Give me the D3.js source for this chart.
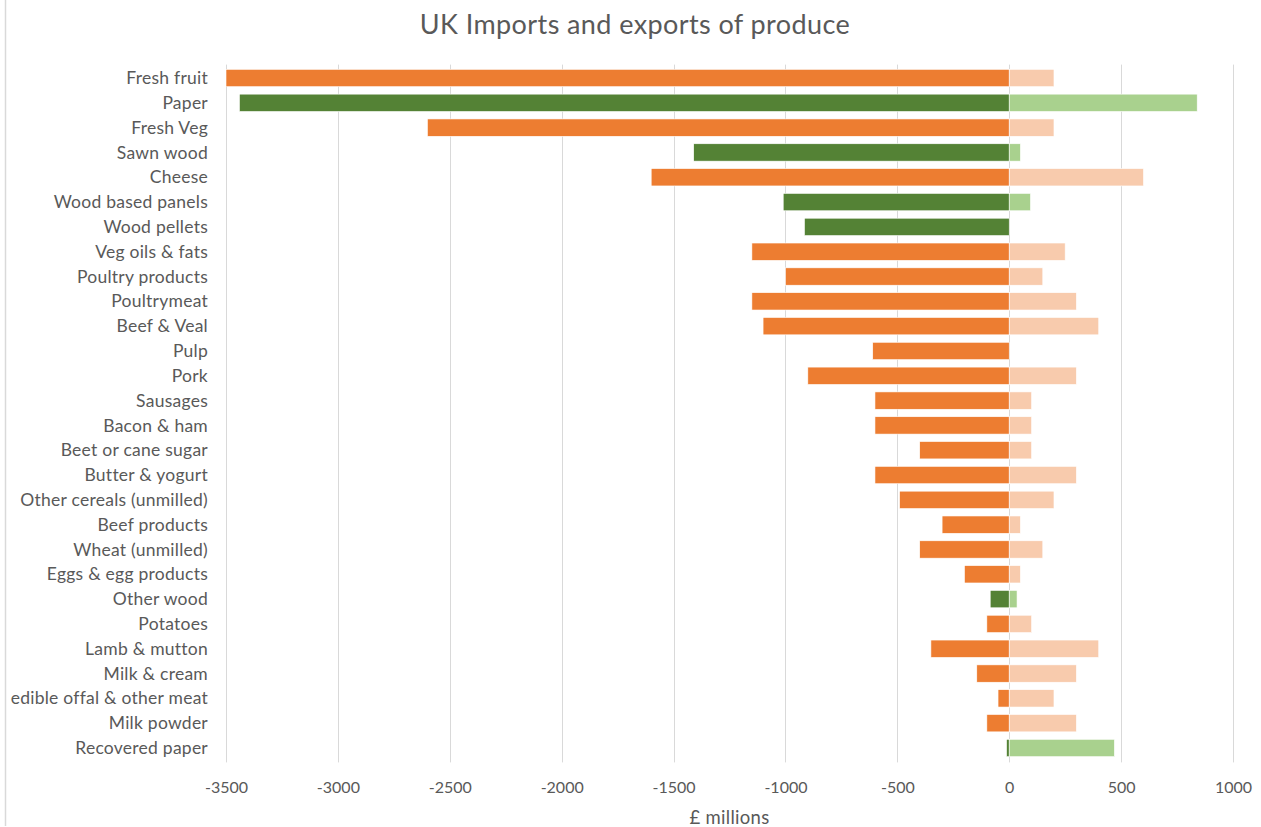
<!DOCTYPE html>
<html>
<head>
<meta charset="utf-8">
<script src="https://cdn.jsdelivr.net/npm/d3@7"></script>
<style>
  html, body { margin: 0; padding: 0; background: #fff; }
  svg { display: block; font-family: Lato, "Open Sans", sans-serif; }
</style>
</head>
<body>
<svg id="chart" width="1261" height="827"></svg>
<script>
const categories = ["Fresh fruit","Paper","Fresh Veg","Sawn wood ","Cheese","Wood based panels","Wood pellets","Veg oils & fats","Poultry products","Poultrymeat","Beef & Veal","Pulp","Pork","Sausages","Bacon & ham","Beet or cane sugar","Butter & yogurt","Other cereals (unmilled)","Beef products","Wheat (unmilled)","Eggs & egg products","Other wood","Potatoes","Lamb & mutton","Milk & cream","edible offal & other meat","Milk powder","Recovered paper"];
const imports = [-3500,-3440,-2600,-1410,-1600,-1010,-915,-1150,-1000,-1150,-1100,-610,-900,-600,-600,-400,-600,-490,-300,-400,-200,-85,-100,-350,-145,-50,-100,-12];
const exports = [200,840,200,50,600,95,0,250,150,300,400,0,300,100,100,100,300,200,50,150,50,35,100,400,300,200,300,470];
const isWood = [false,true,false,true,false,true,true,false,false,false,false,false,false,false,false,false,false,false,false,false,false,true,false,false,false,false,false,true];
const xTicks = [-3500,-3000,-2500,-2000,-1500,-1000,-500,0,500,1000];
const title = "UK Imports and exports of produce";
const xTitle = "£ millions";

const svg = d3.select("#chart");
const m = {left: 226, right: 1233, top: 65.6, bottom: 760.4};

const x = d3.scaleLinear().domain([-3500, 1000]).range([m.left, m.right]);
const y = d3.scaleBand().domain(categories).range([m.top, m.bottom]).paddingInner(0.3).paddingOuter(0.15);

// chart border (left)
svg.append("line").attr("x1", 5.5).attr("x2", 5.5).attr("y1", 0).attr("y2", 826)
  .attr("stroke", "#d9d9d9").attr("stroke-width", 1.5);

// gridlines
svg.append("g").selectAll("line").data(xTicks).join("line")
  .attr("x1", d => Math.round(x(d)) + 0.5).attr("x2", d => Math.round(x(d)) + 0.5)
  .attr("y1", m.top - 1).attr("y2", m.bottom + 2)
  .attr("stroke", "#d9d9d9").attr("stroke-width", 1);

const rows = categories.map((c, i) => ({c, imp: imports[i], exp: exports[i], wood: isWood[i]}));

// import bars
svg.append("g").selectAll("rect").data(rows).join("rect")
  .attr("x", d => x(d.imp))
  .attr("y", d => y(d.c))
  .attr("width", d => x(0) - x(d.imp))
  .attr("height", y.bandwidth())
  .attr("fill", d => d.wood ? "#548235" : "#ED7D31")
  .attr("stroke", "#fff").attr("stroke-width", 0.6);

// export bars
svg.append("g").selectAll("rect").data(rows.filter(d => d.exp > 0)).join("rect")
  .attr("x", x(0))
  .attr("y", d => y(d.c))
  .attr("width", d => x(d.exp) - x(0))
  .attr("height", y.bandwidth())
  .attr("fill", d => d.wood ? "#A9D18E" : "#F8CBAD")
  .attr("stroke", "#fff").attr("stroke-width", 0.6);

// y axis labels
svg.append("g").selectAll("text").data(categories).join("text")
  .attr("x", 208)
  .attr("y", d => y(d) + y.bandwidth() / 2)
  .attr("dy", "0.35em")
  .attr("text-anchor", "end")
  .attr("font-size", "17.5px")
  .attr("letter-spacing", "0.25px")
  .attr("fill", "#595959")
  .text(d => d);

// x axis tick labels
const fmt = d => String(d);
const xAxis = d3.axisBottom(x).tickValues(xTicks).tickSize(0).tickPadding(0).tickFormat(fmt);
const gx = svg.append("g").attr("transform", `translate(0, 787)`).call(xAxis);
gx.select(".domain").remove();
gx.selectAll("text").attr("font-size", "16px").attr("fill", "#595959")
  .attr("font-family", "Lato, sans-serif").attr("dy", "0.35em").attr("y", 0);

// title
svg.append("text").attr("x", 635).attr("y", 25).attr("dy", "0.35em")
  .attr("text-anchor", "middle").attr("font-size", "27px").attr("letter-spacing", "0.4px")
  .attr("fill", "#595959")
  .text(title);

// x title
svg.append("text").attr("x", (m.left + m.right) / 2).attr("y", 818).attr("dy", "0.35em")
  .attr("text-anchor", "middle").attr("font-size", "18.5px").attr("letter-spacing", "0.3px")
  .attr("fill", "#595959")
  .text(xTitle);
</script>
</body>
</html>
